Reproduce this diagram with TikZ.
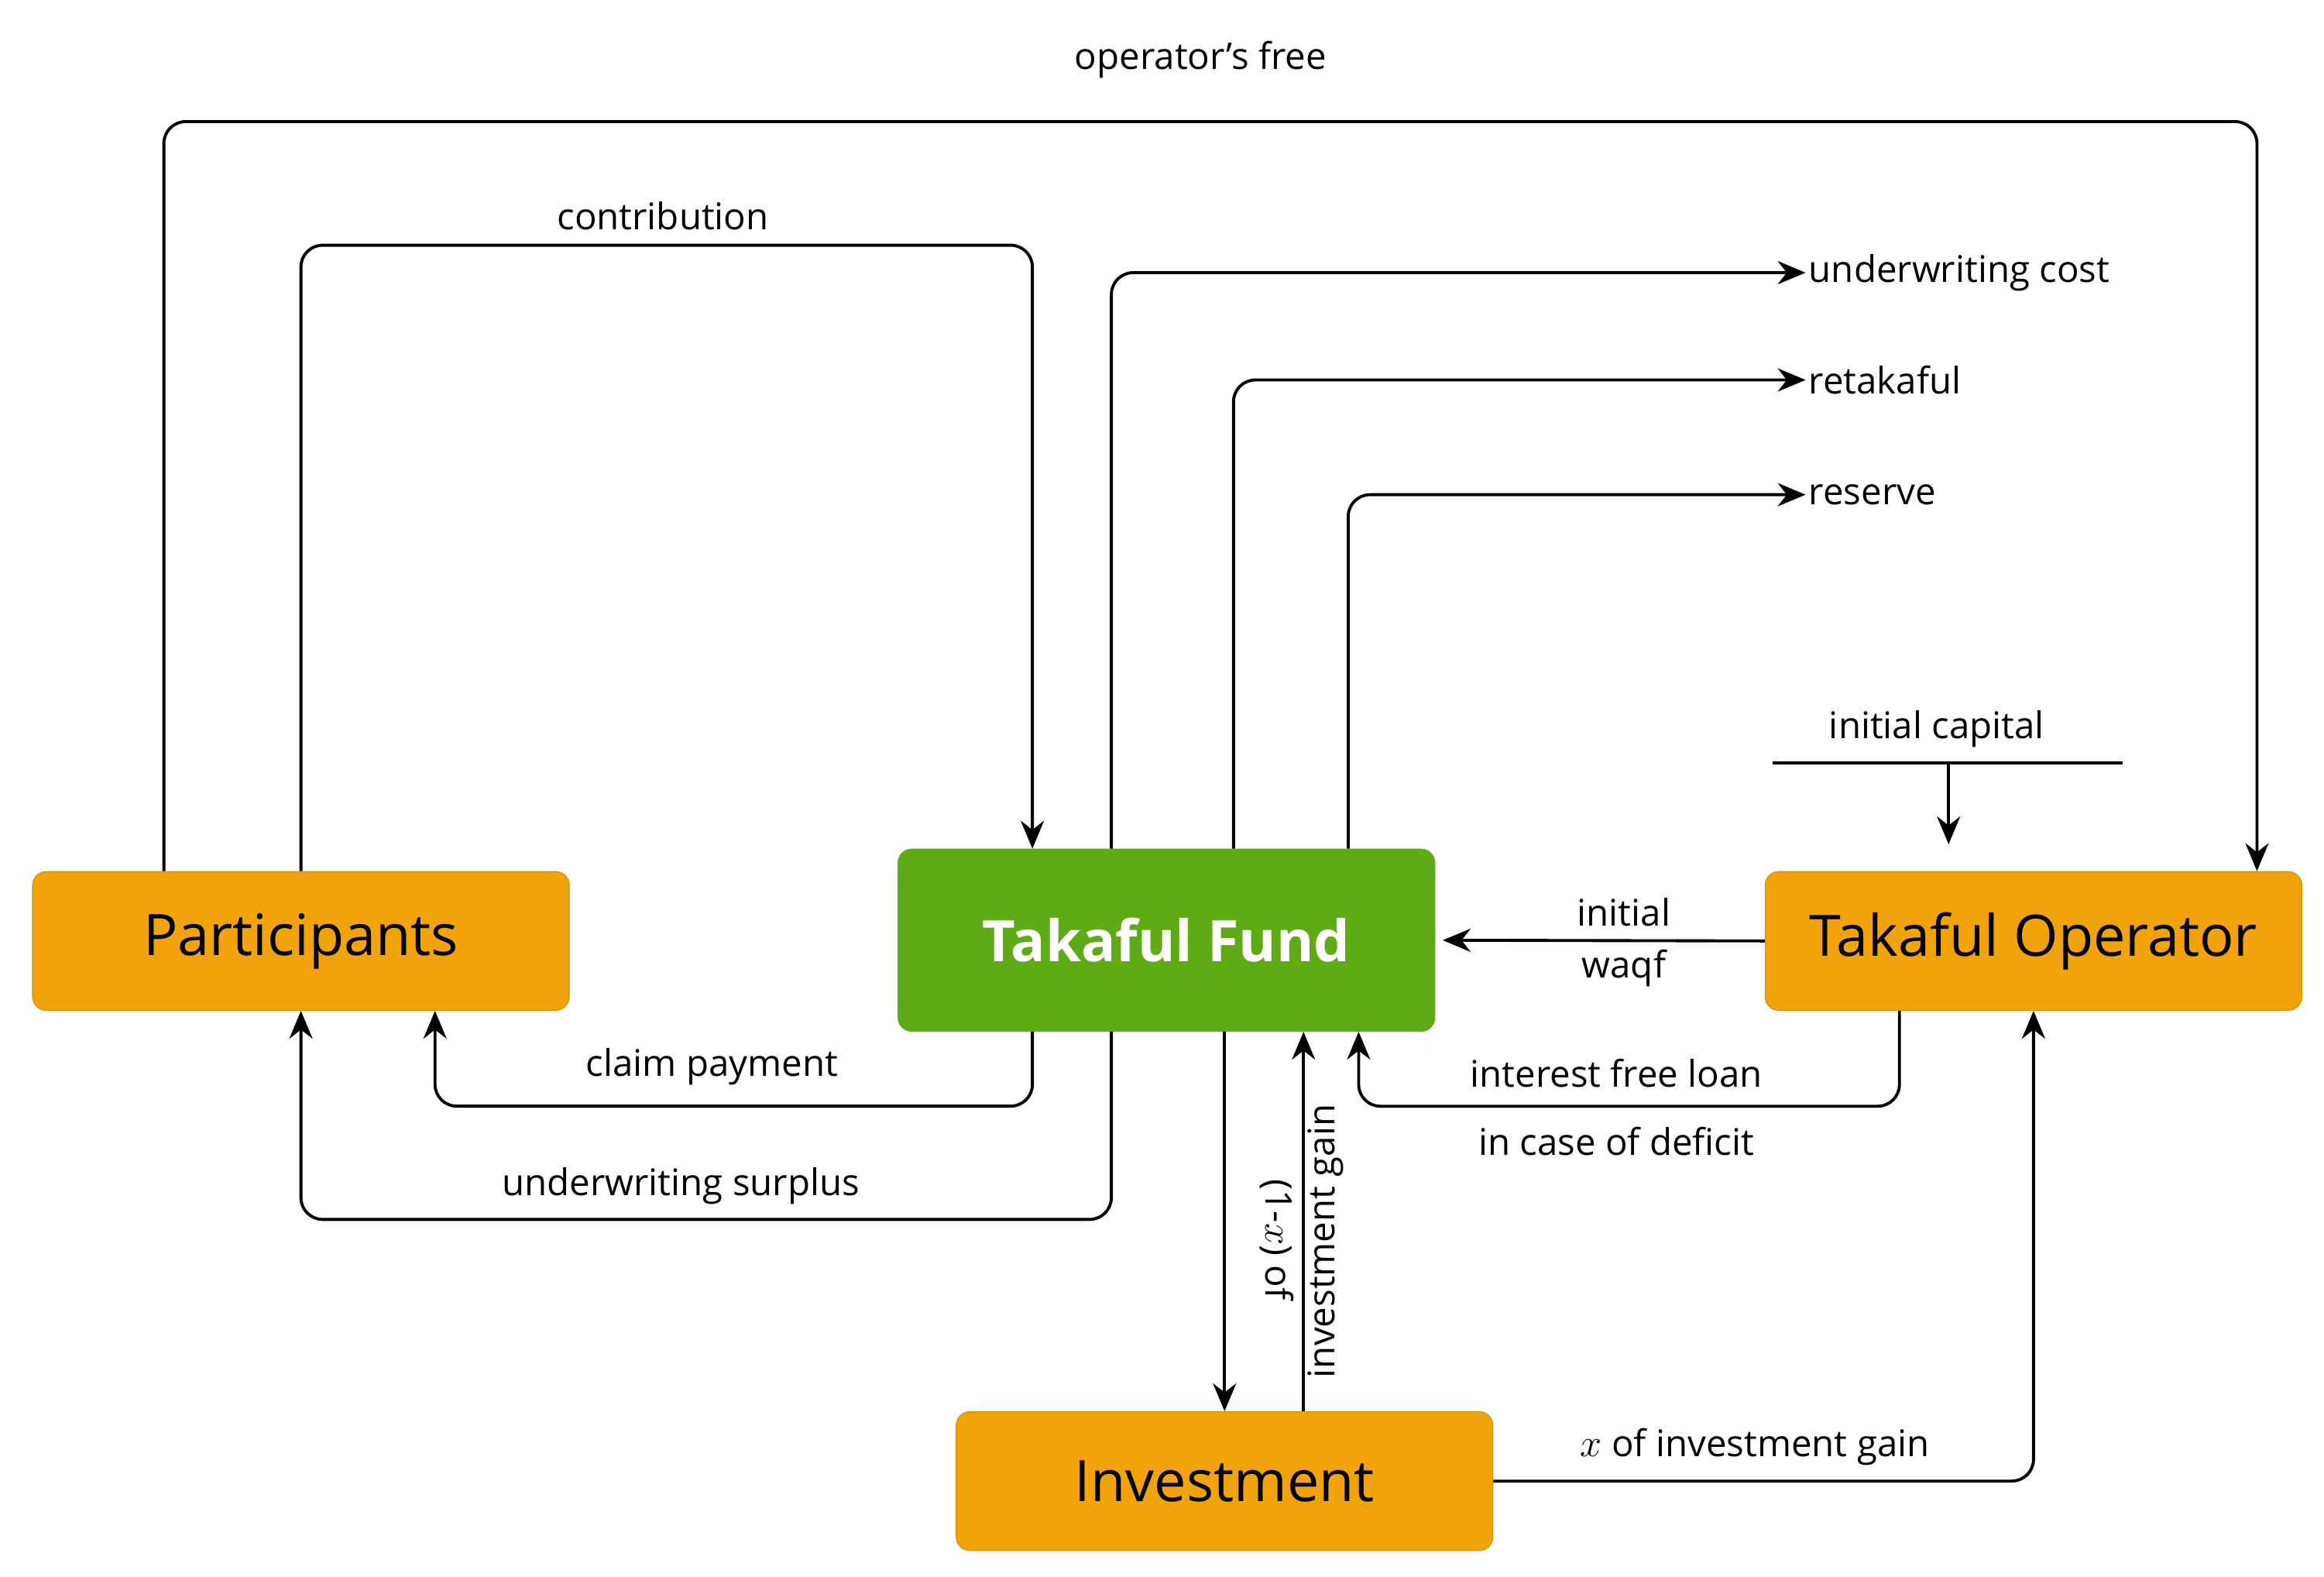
\documentclass[tikz,border=0pt]{standalone}
\usepackage{fontspec}
\setmainfont{Open Sans}
\usetikzlibrary{arrows.meta}
\usetikzlibrary{calc}
\definecolor{boxorange}{HTML}{F0A30A}
\definecolor{boxgreen}{HTML}{60A917}
\tikzset{box/.style = {fill=boxorange, draw=boxorange!90!black, rounded corners=5pt, minimum width=6.93cm, minimum height=1.79cm, inner sep=0pt, font=\fontsize{21}{25}\selectfont}}
\tikzset{flow/.style = {draw, line width=1.1pt, rounded corners=8pt, -{Stealth[length=0.36cm, width=0.3cm]}}}
\tikzset{lbl/.style = {font=\fontsize{13.5}{16}\selectfont, inner sep=1pt}}

\begin{document}
\begin{tikzpicture}[x=0.01924cm, y=-0.01924cm]
	\useasboundingbox (0,0) rectangle (1560,1058);
	
	\node[box] (part) at (202,631.5) {Participants} ;
	\node[box, fill=boxgreen, draw=boxgreen, minimum height=2.35cm, text=white, font=\fontsize{21}{25}\selectfont\bfseries] (fund) at (783,631) {Takaful Fund} ;
	\node[box] (oper) at (1365,631.5) {Takaful Operator} ;
	\node[box] (inv) at (822,994) {Investment} ;
	
	% free ends on the right
	\node[lbl, anchor=west] (uwcost) at (1212,183) {underwriting cost} ;
	\node[lbl, anchor=west] (retak) at (1212,255) {retakaful} ;
	\node[lbl, anchor=west] (resv) at (1212,332) {reserve} ;
	\coordinate (capL) at (1190,512) ;
	\coordinate (capR) at (1425,512) ;
	
	% top loops
	\draw[flow] ($(part.north)+(-92,0)$) |- ($(oper.north)+(150,-503)$) -- ($(oper.north)+(150,0)$) ;
	\node[lbl] at (806,40) {operator's free} ;
	\draw[flow] (part.north) |- ($(fund.north)+(-90,-405)$) -- ($(fund.north)+(-90,0)$) ;
	\node[lbl] at (445,145) {contribution} ;
	
	\draw[flow] ($(fund.north)+(-37,0)$) |- (uwcost.west) ;
	\draw[flow] ($(fund.north)+(45,0)$) |- (retak.west) ;
	\draw[flow] ($(fund.north)+(122,0)$) |- (resv.west) ;
	
	% initial capital
	\draw[line width=1.1pt] (capL) -- (capR) ;
	\node[lbl] at (1300,489) {initial capital} ;
	\draw[flow] (capL -| {$(oper.north)+(-57,0)$}) -- ($(oper.north)+(-57,-18)$) ;
	
	% between fund and operator
	\draw[flow] (oper.west) -- ($(fund.east)+(5,0)$) ;
	\node[lbl] at (1090,612) {initial} ;
	\node[lbl] at (1090,650) {waqf} ;
	\draw[flow] ($(oper.south)+(-90,0)$) |- ($(fund.south)+(129,50)$) -- ($(fund.south)+(129,0)$) ;
	\node[lbl] at (1085,720) {interest free loan} ;
	\node[lbl] at (1085,766) {in case of deficit} ;
	
	% back to participants
	\draw[flow] ($(fund.south)+(-90,0)$) |- ($(part.south)+(90,64)$) -- ($(part.south)+(90,0)$) ;
	\node[lbl] at (478,716) {claim payment} ;
	\draw[flow] ($(fund.south)+(-37,0)$) |- ($(part.south)+(0,140)$) -- (part.south) ;
	\node[lbl] at (457,796) {underwriting surplus} ;
	
	% investment
	\draw[flow] ($(fund.south)+(39,0)$) -- (inv.north) ;
	\draw[flow] ($(inv.north)+(53,0)$) -- ($(fund.south)+(92,0)$) ;
	\node[lbl, rotate=-90] at (857,832) {(1-$x$) of} ;
	\node[lbl, rotate=90] at (890,833) {investment gain} ;
	\draw[flow] (inv.east) -| (oper.south) ;
	\node[lbl] at (1178,971) {$x$ of investment gain} ;
\end{tikzpicture}
\end{document}
